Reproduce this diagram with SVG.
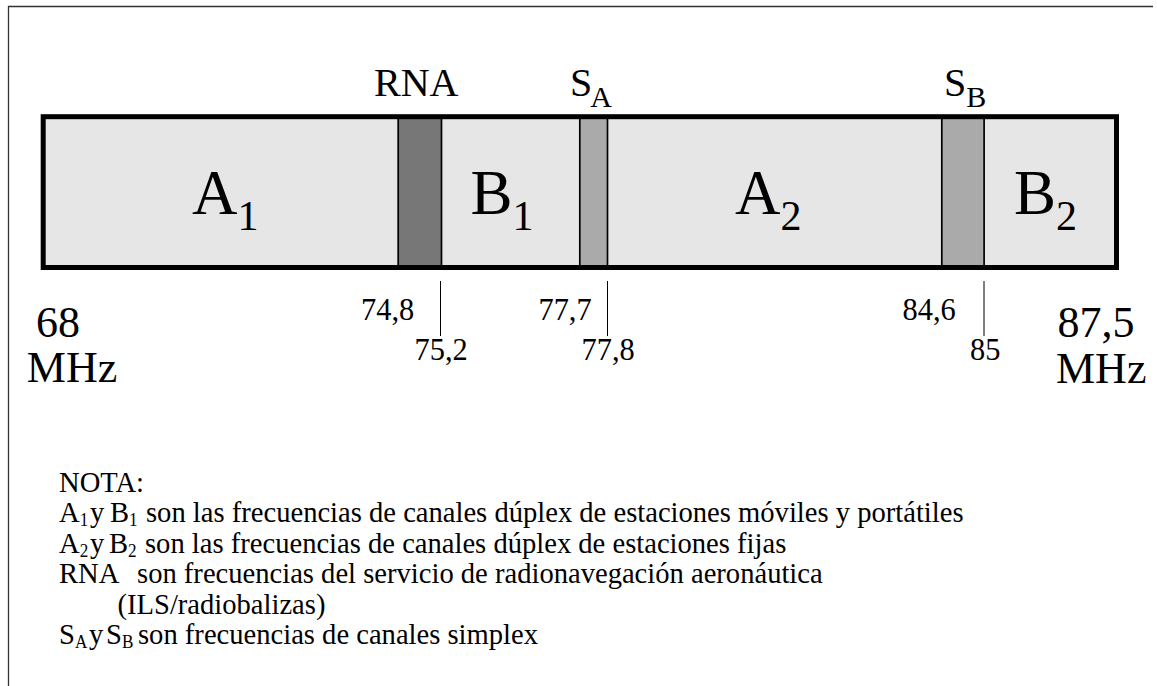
<svg xmlns="http://www.w3.org/2000/svg" width="1157" height="686" viewBox="0 0 1157 686">
<style>
text { font-family: "Liberation Serif", "Times New Roman", serif; fill: #000; }
.big { font-size: 63px; }
.sub { font-size: 42px; }
.lab { font-size: 40px; }
.lsub { font-size: 30px; }
.mhz { font-size: 44px; }
.num { font-size: 32px; }
.note { font-size: 30px; }
.nsub { font-size: 18px; }
.seg { fill: #e6e6e6; }
.band { stroke: #000; stroke-width: 1.7; }
.tick { stroke: #000; stroke-width: 1; }
</style>
<rect x="0" y="0" width="1157" height="686" fill="#fff"/>
<g id="frame" fill="none" stroke="#333" stroke-width="1.3">
  <path d="M8.5 686 V6.5 H1153"/>
</g>
<g id="bar">
  <rect class="seg" x="43.2" y="116.7" width="1073.3" height="150.8"/>
</g>
<g id="A1">
  <text class="big" x="192" y="214">A<tspan class="sub" dy="16">1</tspan></text>
</g>
<g id="RNA">
  <rect class="band" x="398.2" y="116.7" width="43.3" height="150.8" fill="#777777"/>
  <text class="lab" x="374" y="96">RNA</text>
</g>
<g id="B1">
  <text class="big" x="470.5" y="214">B<tspan class="sub" dy="16">1</tspan></text>
</g>
<g id="SA">
  <rect class="band" x="579.8" y="116.7" width="27.7" height="150.8" fill="#aaaaaa"/>
  <text class="lab" x="570" y="96">S<tspan class="lsub" dx="-2" dy="10.7">A</tspan></text>
</g>
<g id="A2">
  <text class="big" x="735" y="214">A<tspan class="sub" dy="16">2</tspan></text>
</g>
<g id="SB">
  <rect class="band" x="941.8" y="116.7" width="42.3" height="150.8" fill="#aaaaaa"/>
  <text class="lab" x="944" y="96">S<tspan class="lsub" dy="10.7">B</tspan></text>
</g>
<g id="B2">
  <text class="big" x="1014" y="214">B<tspan class="sub" dy="16">2</tspan></text>
</g>
<g id="bar-outline">
  <rect x="43.2" y="116.7" width="1073.3" height="150.8" fill="none" stroke="#000" stroke-width="5"/>
</g>
<g id="connectors">
  <line class="tick" x1="440.5" y1="281" x2="440.5" y2="336"/>
  <line class="tick" x1="607.5" y1="281" x2="607.5" y2="336"/>
  <line class="tick" x1="984" y1="281" x2="984" y2="336" stroke="#777" stroke-width="1.3"/>
</g>
<g id="band-limits">
  <text class="mhz" x="36" y="336.5">68</text>
  <text class="mhz" x="26.8" y="381.7">MHz</text>
  <text class="mhz" x="1057.5" y="336.7">87,5</text>
  <text class="mhz" x="1056" y="382.7">MHz</text>
</g>
<g id="freq-labels" transform="scale(0.95 1)">
  <text class="num" x="380" y="320">74,8</text>
  <text class="num" x="436.3" y="360">75,2</text>
  <text class="num" x="566.8" y="320">77,7</text>
  <text class="num" x="612.1" y="360">77,8</text>
  <text class="num" x="950" y="320">84,6</text>
  <text class="num" x="1021.1" y="360">85</text>
</g>
<g id="notes" transform="scale(0.953 1)">
  <text class="note" x="61.91" y="492">NOTA:</text>
  <text class="note" x="61.91" y="522.5">A<tspan class="nsub" dy="4">1</tspan><tspan dy="-4" x="94.44">y</tspan><tspan x="115.42">B</tspan><tspan class="nsub" dy="4">1</tspan><tspan dy="-4" x="153.2">son las frecuencias de canales dúplex de estaciones móviles y portátiles</tspan></text>
  <text class="note" x="61.91" y="553">A<tspan class="nsub" dy="4">2</tspan><tspan dy="-4" x="94.44">y</tspan><tspan x="114.38">B</tspan><tspan class="nsub" dy="4">2</tspan><tspan dy="-4" x="152.15">son las frecuencias de canales dúplex de estaciones fijas</tspan></text>
  <text class="note" x="61.91" y="583.5">RNA<tspan x="143.76">son frecuencias del servicio de radionavegación aeronáutica</tspan></text>
  <text class="note" x="123.29" y="614">(ILS/radiobalizas)</text>
  <text class="note" x="61.91" y="644.5">S<tspan class="nsub" dy="4">A</tspan><tspan dy="-4" x="93.39">y</tspan><tspan x="111.23">S</tspan><tspan class="nsub" dy="4">B</tspan><tspan dy="-4" x="144.8">son frecuencias de canales simplex</tspan></text>
</g>
</svg>
